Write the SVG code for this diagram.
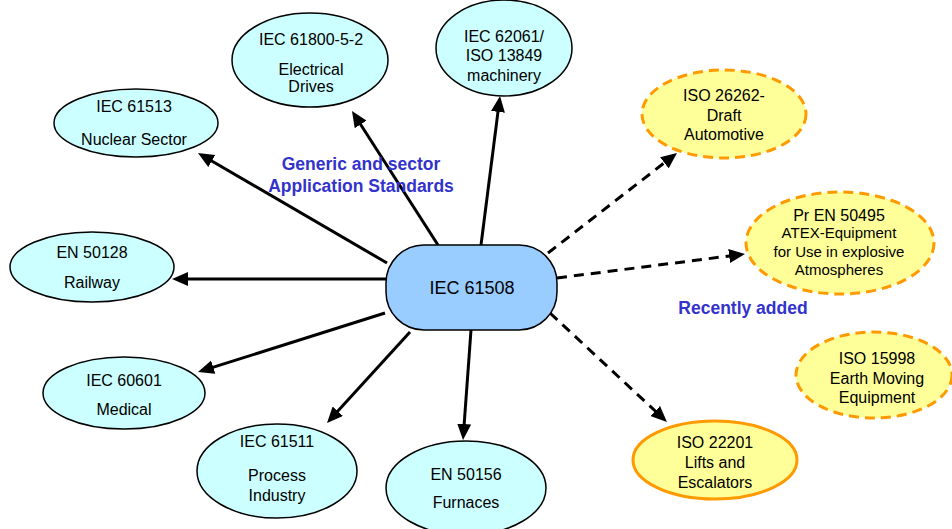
<svg xmlns="http://www.w3.org/2000/svg" width="952" height="529" viewBox="0 0 952 529">
<defs>
<style>
.std{fill:#ccffff;stroke:#000;stroke-width:1.5}
.new{fill:#ffff99;stroke:#ff9900;stroke-width:3;stroke-dasharray:10 6}
.newsolid{fill:#ffff99;stroke:#ff9900;stroke-width:3}
.hub{fill:#99ccff;stroke:#000;stroke-width:1.5}
text{font-family:"Liberation Sans",Arial,sans-serif;fill:#000;text-anchor:middle}
.t16{font-size:16px}
.t15{font-size:15px}
.lbl{font-size:17.5px;font-weight:bold;fill:#3333cc}
.arr{stroke:#000;stroke-width:3;fill:none;marker-end:url(#ah)}
.darr{stroke:#000;stroke-width:3;fill:none;stroke-dasharray:10 7;marker-end:url(#ah)}
</style>
<marker id="ah" markerUnits="userSpaceOnUse" markerWidth="16" markerHeight="14" refX="8" refY="7" orient="auto">
<path d="M0,0 L16,7 L0,14 z" fill="#000"/>
</marker>
</defs>
<rect width="952" height="529" fill="#fff"/>
<g id="connectors">
<line class="arr" x1="387" y1="263" x2="204.9" y2="157"/>
<line class="arr" x1="438" y1="245" x2="356.3" y2="117.7"/>
<line class="arr" x1="481" y1="245" x2="499" y2="103.9"/>
<line class="arr" x1="387" y1="279" x2="180" y2="279"/>
<line class="arr" x1="385" y1="313" x2="205.6" y2="369.6"/>
<line class="arr" x1="410" y1="332" x2="332.4" y2="417.1"/>
<line class="arr" x1="471" y1="330" x2="463.6" y2="432"/>
<line class="darr" x1="548" y1="253" x2="670.7" y2="157.9"/>
<line class="darr" x1="557" y1="278" x2="737.1" y2="255"/>
<line class="darr" x1="550" y1="313" x2="661.1" y2="416.5"/>
</g>
<g id="hub">
<rect class="hub" x="386" y="245" width="171" height="85" rx="38" ry="38"/>
<text x="472" y="294" style="font-size:18px">IEC 61508</text>
</g>
<g id="n61513">
<ellipse class="std" cx="136" cy="123" rx="82" ry="34"/>
<text class="t16" x="134" y="112">IEC 61513</text>
<text class="t16" x="134" y="145">Nuclear Sector</text>
</g>
<g id="n61800">
<ellipse class="std" cx="310" cy="60" rx="78" ry="47"/>
<text class="t16" x="311" y="45">IEC 61800-5-2</text>
<text class="t16" x="311" y="75">Electrical</text>
<text class="t16" x="311" y="92">Drives</text>
</g>
<g id="n62061">
<ellipse class="std" cx="504" cy="48" rx="68" ry="48"/>
<text class="t16" x="504" y="42">IEC 62061/</text>
<text class="t16" x="504" y="61">ISO 13849</text>
<text class="t16" x="504" y="81">machinery</text>
</g>
<g id="n50128">
<ellipse class="std" cx="92" cy="267" rx="82" ry="35"/>
<text class="t16" x="92" y="258">EN 50128</text>
<text class="t16" x="92" y="288">Railway</text>
</g>
<g id="n60601">
<ellipse class="std" cx="124" cy="393" rx="81" ry="36"/>
<text class="t16" x="124" y="386">IEC 60601</text>
<text class="t16" x="124" y="415">Medical</text>
</g>
<g id="n61511">
<ellipse class="std" cx="277" cy="471" rx="80" ry="47"/>
<text class="t16" x="277" y="447">IEC 61511</text>
<text class="t16" x="277" y="481">Process</text>
<text class="t16" x="277" y="501">Industry</text>
</g>
<g id="n50156">
<ellipse class="std" cx="466" cy="488" rx="80" ry="47"/>
<text class="t16" x="466" y="480">EN 50156</text>
<text class="t16" x="466" y="508">Furnaces</text>
</g>
<g id="n26262">
<ellipse class="new" cx="724" cy="114" rx="82" ry="44"/>
<text class="t16" x="724" y="101">ISO 26262-</text>
<text class="t16" x="724" y="121">Draft</text>
<text class="t16" x="724" y="140">Automotive</text>
</g>
<g id="n50495">
<ellipse class="new" cx="840" cy="243" rx="94" ry="51"/>
<text class="t16" x="839" y="221">Pr EN 50495</text>
<text class="t15" x="839" y="238">ATEX-Equipment</text>
<text class="t15" x="839" y="257">for Use in explosive</text>
<text class="t15" x="839" y="275">Atmospheres</text>
</g>
<g id="n15998">
<ellipse class="new" cx="874" cy="375" rx="78" ry="43"/>
<text class="t16" x="877" y="364">ISO 15998</text>
<text class="t16" x="877" y="384">Earth Moving</text>
<text class="t16" x="877" y="403">Equipment</text>
</g>
<g id="n22201">
<ellipse class="newsolid" cx="715" cy="460" rx="82" ry="39"/>
<text class="t16" x="715" y="448">ISO 22201</text>
<text class="t16" x="715" y="468">Lifts and</text>
<text class="t16" x="715" y="488">Escalators</text>
</g>
<g id="labels">
<text class="lbl" x="361" y="170">Generic and sector</text>
<text class="lbl" x="361" y="192">Application Standards</text>
<text class="lbl" x="743" y="314">Recently added</text>
</g>
</svg>
